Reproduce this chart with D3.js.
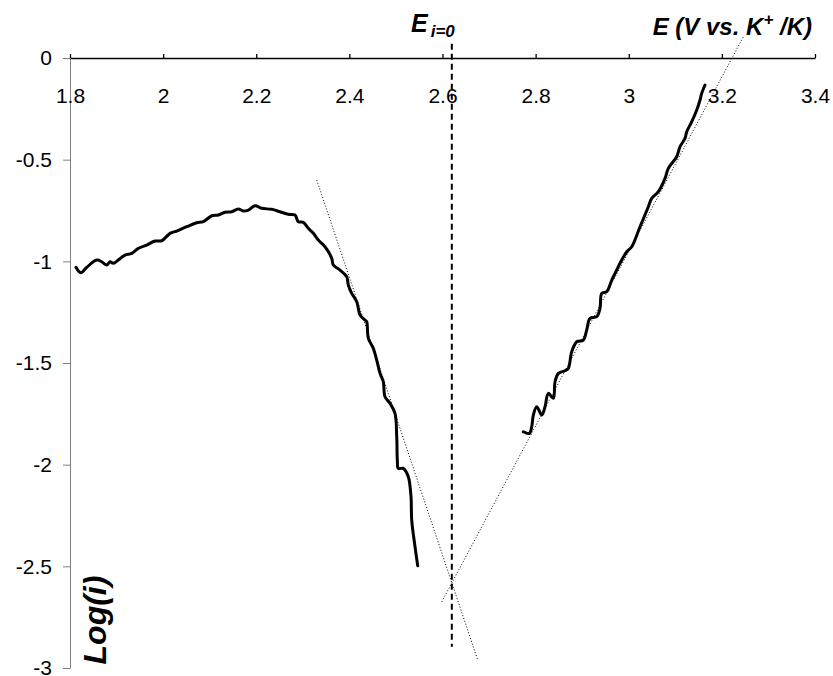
<!DOCTYPE html>
<html>
<head>
<meta charset="utf-8">
<script src="https://cdn.jsdelivr.net/npm/d3@7"></script>
<style>
  body { margin: 0; background: #fff; }
  svg text { font-family: "Liberation Sans", Arial, sans-serif; }
</style>
</head>
<body>
<svg id="chart" width="833" height="676"></svg>
<script>
// Cathodic branch (E in V, log i)
var cathodic = [
  [1.8129,-1.0295],[1.8230,-1.0561],[1.8359,-1.0295],[1.8573,-0.9936],[1.8681,-1.0020],
  [1.8788,-1.0182],[1.8859,-1.0020],[1.8930,-1.0098],[1.9037,-0.9936],[1.9181,-0.9690],
  [1.9325,-0.9606],[1.9467,-0.9361],[1.9647,-0.9198],[1.9826,-0.9002],[1.9969,-0.8987],
  [2.0148,-0.8623],[2.0292,-0.8510],[2.0506,-0.8298],[2.0721,-0.8101],[2.0863,-0.8052],
  [2.1043,-0.7757],[2.1185,-0.7723],[2.1329,-0.7590],[2.1473,-0.7560],[2.1615,-0.7427],
  [2.1722,-0.7526],[2.1830,-0.7477],[2.1973,-0.7265],[2.2117,-0.7393],[2.2332,-0.7442],
  [2.2510,-0.7560],[2.2689,-0.7688],[2.2832,-0.7723],[2.2903,-0.8052],[2.3011,-0.8082],
  [2.3118,-0.8377],[2.3226,-0.8623],[2.3333,-0.8952],[2.3477,-0.9282],[2.3621,-0.9852],
  [2.3655,-1.0182],[2.3799,-1.0428],[2.3943,-1.0757],[2.3977,-1.1166],[2.4050,-1.1574],
  [2.4158,-1.1987],[2.4229,-1.2641],[2.4336,-1.2887],[2.4372,-1.2971],[2.4407,-1.3788],
  [2.4514,-1.4279],[2.4587,-1.4855],[2.4658,-1.5509],[2.4729,-1.5922],[2.4765,-1.6660],
  [2.4873,-1.6985],[2.4980,-1.7477],[2.5017,-1.8628],[2.5030,-1.9774],[2.5051,-2.0182],
  [2.5159,-2.0182],[2.5266,-2.0595],[2.5318,-2.1412],[2.5328,-2.1741],[2.5339,-2.2725],
  [2.5410,-2.4038],[2.5468,-2.4973]
];

// Anodic branch
var anodic = [
  [2.7736,-1.8382],[2.7865,-1.8460],[2.7916,-1.8136],[2.7951,-1.7560],[2.8024,-1.7152],
  [2.8131,-1.7560],[2.8202,-1.7152],[2.8273,-1.6493],[2.8380,-1.6739],[2.8417,-1.5922],
  [2.8488,-1.5509],[2.8632,-1.5381],[2.8702,-1.5263],[2.8775,-1.4447],[2.8883,-1.3955],
  [2.9025,-1.3871],[2.9097,-1.3379],[2.9168,-1.2804],[2.9312,-1.2725],[2.9383,-1.2312],
  [2.9420,-1.1574],[2.9527,-1.1495],[2.9635,-1.0920],[2.9706,-1.0590],[2.9849,-0.9936],
  [2.9957,-0.9528],[3.0064,-0.9282],[3.0242,-0.8298],[3.0421,-0.7314],[3.0493,-0.6901],
  [3.0635,-0.6576],[3.0779,-0.5917],[3.0850,-0.5425],[3.1030,-0.4855],[3.1101,-0.4363],
  [3.1208,-0.3950],[3.1245,-0.3625],[3.1353,-0.3133],[3.1460,-0.2558],[3.1531,-0.2066],
  [3.1567,-0.1736],[3.1638,-0.1328]
];

// Tafel fit lines (end points)
var tafelCathodic = [[2.3299,-0.6001],[2.6757,-2.9611]];
var tafelAnodic = [[2.5984,-2.6744],[3.2462,0.1048]];

// Zero-current potential marker
var eZero = 2.62;
var eZeroSpan = [0.07, -2.896];

var xTicks = [1.8, 2, 2.2, 2.4, 2.6, 2.8, 3, 3.2, 3.4];
var yTicks = [0, -0.5, -1, -1.5, -2, -2.5, -3];

var svg = d3.select("#chart");

var x = d3.scaleLinear().domain([1.8, 3.4]).range([70, 815]);
var y = d3.scaleLinear().domain([-3, 0]).range([668, 58]);

// Y axis (gray)
var yAxis = svg.append("g")
    .attr("transform", "translate(" + x(1.8) + ",0)")
    .call(d3.axisLeft(y).tickValues(yTicks).tickSize(7).tickSizeOuter(0).tickPadding(11)
        .tickFormat(function (d) { return String(d); }));
yAxis.selectAll("path, line").attr("stroke", "#808080");
yAxis.selectAll("text").attr("font-size", 21).attr("fill", "#000")
    .style("font-family", "Liberation Sans, Arial, sans-serif");

// X axis along log(i)=0, ticks pointing up, labels below
var xAxis = svg.append("g")
    .attr("transform", "translate(0," + y(0) + ")")
    .call(d3.axisBottom(x).tickValues(xTicks).tickSizeInner(-4).tickSizeOuter(0).tickPadding(30)
        .tickFormat(function (d) { return String(d); }));
xAxis.selectAll("path, line").attr("stroke", "#000").attr("stroke-width", 1.3);
xAxis.selectAll("text").attr("font-size", 21).attr("fill", "#000")
    .style("font-family", "Liberation Sans, Arial, sans-serif");

var line = d3.line()
    .x(function (d) { return x(d[0]); })
    .y(function (d) { return y(d[1]); });

// Tafel lines
[tafelCathodic, tafelAnodic].forEach(function (seg) {
    svg.append("path")
        .attr("d", line(seg))
        .attr("fill", "none")
        .attr("stroke", "#000")
        .attr("stroke-width", 1)
        .attr("stroke-dasharray", "1,2");
});

// E(i=0) dashed line
svg.append("line")
    .attr("x1", x(eZero)).attr("x2", x(eZero))
    .attr("y1", y(eZeroSpan[0])).attr("y2", y(eZeroSpan[1]))
    .attr("stroke", "#000")
    .attr("stroke-width", 2)
    .attr("stroke-dasharray", "6,4");

// Measured curves
[cathodic, anodic].forEach(function (data) {
    svg.append("path")
        .datum(data)
        .attr("d", line.curve(d3.curveCatmullRom))
        .attr("fill", "none")
        .attr("stroke", "#000")
        .attr("stroke-width", 3)
        .attr("stroke-linejoin", "round")
        .attr("stroke-linecap", "round");
});

// Labels
var eLab = svg.append("text")
    .attr("x", 411).attr("y", 32)
    .attr("font-size", 25).attr("font-weight", "bold").attr("font-style", "italic");
eLab.append("tspan").text("E");
eLab.append("tspan").attr("dx", 3).attr("dy", 5).attr("font-size", 17).text("i=0");

var title = svg.append("text")
    .attr("x", 812).attr("y", 35)
    .attr("text-anchor", "end")
    .attr("font-size", 24).attr("font-weight", "bold").attr("font-style", "italic");
title.append("tspan").text("E (V vs. K");
title.append("tspan").attr("dy", -10).attr("font-size", 17).text("+");
title.append("tspan").attr("dy", 10).text(" /K)");

svg.append("text")
    .attr("transform", "translate(106,620) rotate(-90)")
    .attr("text-anchor", "middle")
    .attr("font-size", 32).attr("font-weight", "bold").attr("font-style", "italic")
    .text("Log(i)");
</script>
</body>
</html>
